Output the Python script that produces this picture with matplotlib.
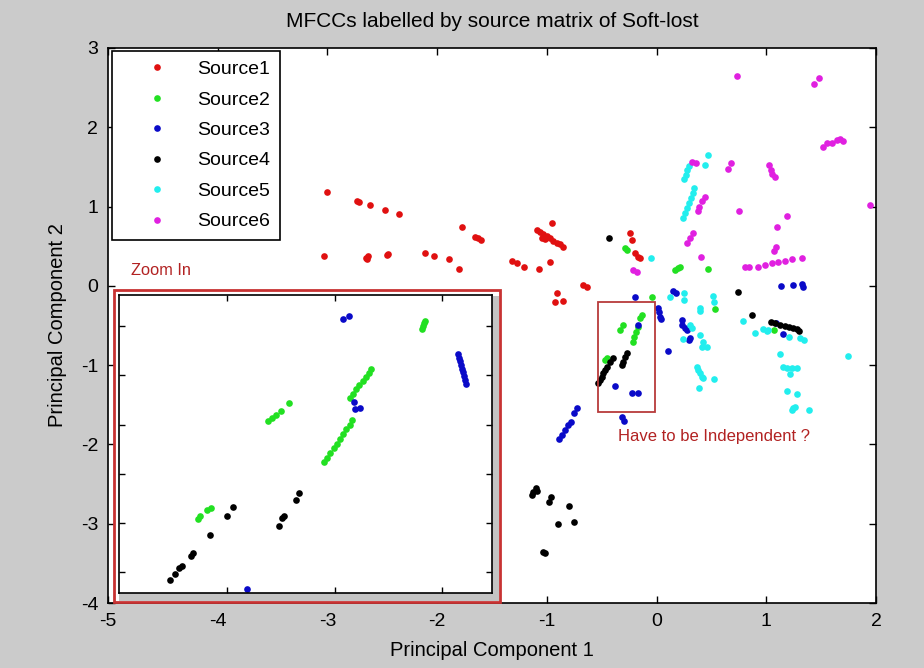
import matplotlib
matplotlib.use("Agg")
import matplotlib.pyplot as plt
from matplotlib.patches import Rectangle

plt.rcParams['font.family'] = ['Liberation Sans', 'DejaVu Sans']
plt.rcParams['axes.unicode_minus'] = False

# --- main scatter data (PC1, PC2) per source ---
src1_x = [-3.004, -2.733, -2.709, -2.609, -2.478, -2.345, -1.776, -1.655, -1.630, -1.600,
          -3.031, -2.651, -2.627, -2.642, -2.459, -2.448, -2.110, -2.026, -1.892, -1.803,
          -1.320, -1.274, -1.205, -1.071, -0.971, -0.955, -1.092, -1.062, -1.032, -1.001,
          -0.971, -0.941, -0.910, -0.880, -0.850, -1.047, -1.016, -0.910, -0.925, -0.855,
          -0.667, -0.636, -0.242, -0.226, -0.196, -0.166, -0.150]
src1_y = [1.180, 1.074, 1.062, 1.024, 0.961, 0.903, 0.747, 0.613, 0.600, 0.579,
          0.377, 0.356, 0.381, 0.335, 0.386, 0.399, 0.419, 0.373, 0.335, 0.217,
          0.318, 0.285, 0.235, 0.213, 0.298, 0.797, 0.705, 0.676, 0.651, 0.629,
          0.600, 0.570, 0.545, 0.525, 0.494, 0.600, 0.588, -0.093, -0.207, -0.187,
          0.011, -0.018, 0.663, 0.579, 0.411, 0.368, 0.348]

src2_x = [-0.287, -0.272, 0.169, 0.191, 0.214, 0.472, -0.041, -0.333, -0.303, -0.217,
          -0.202, -0.187, -0.166, -0.150, -0.135, -0.469, -0.454, 0.533, 1.067]
src2_y = [0.482, 0.453, 0.200, 0.222, 0.242, 0.213, -0.146, -0.556, -0.493, -0.704,
          -0.641, -0.578, -0.514, -0.409, -0.367, -0.934, -0.913, -0.291, -0.556]

src3_x = [1.135, 1.247, 1.324, 1.338, 0.153, 0.181, 0.016, 0.025, 0.032, 0.041,
          0.235, 0.230, 0.260, 0.275, 0.305, 0.299, 0.108, 1.089, 1.150, -0.196,
          -0.166, -0.378, -0.226, -0.166, -0.317, -0.296, -0.886, -0.864, -0.834, -0.804,
          -0.782, -0.752, -0.727]
src3_y = [-0.008, 0.011, 0.018, -0.014, -0.061, -0.086, -0.282, -0.329, -0.388, -0.421,
          -0.430, -0.499, -0.535, -0.556, -0.661, -0.682, -0.817, -0.472, -0.610, -0.144,
          -0.493, -1.262, -1.347, -1.347, -1.657, -1.700, -1.934, -1.880, -1.817, -1.754,
          -1.713, -1.607, -1.543]

src4_x = [-0.433, 0.746, 0.873, 1.041, 1.080, 1.126, 1.171, 1.211, 1.247, 1.278, 1.299,
          -0.530, -0.515, -0.500, -0.485, -0.469, -0.454, -0.424, -0.399, -0.317, -0.303,
          -0.287, -0.266, -1.138, -1.123, -1.098, -1.087, -0.977, -0.964, -0.798, -0.901,
          -0.752, -1.037, -1.016]
src4_y = [0.600, -0.073, -0.367, -0.451, -0.472, -0.493, -0.506, -0.522, -0.535, -0.547, -0.565,
          -1.228, -1.187, -1.145, -1.102, -1.060, -1.027, -0.956, -0.913, -0.997, -0.956,
          -0.900, -0.850, -2.637, -2.595, -2.552, -2.582, -2.721, -2.658, -2.776, -3.003,
          -2.981, -3.352, -3.372]

src5_x = [0.472, 0.442, 0.299, 0.281, 0.266, 0.253, 0.345, 0.330, 0.312, 0.294, 0.275,
          0.257, 0.239, -0.050, 0.123, 0.251, 0.253, 0.510, 0.524, 0.397, 0.392, 0.301,
          0.321, 0.237, 0.397, 0.421, 0.412, 0.460, 0.366, 0.381, 0.397, 0.412, 0.427,
          0.521, 0.387, 0.786, 0.901, 0.974, 1.005, 1.019, 1.211, 1.308, 1.345, 1.126,
          1.156, 1.187, 1.232, 1.278, 1.217, 1.187, 1.278, 1.232, 1.247, 1.262, 1.393, 1.748]
src5_y = [1.651, 1.525, 1.512, 1.462, 1.399, 1.344, 1.231, 1.168, 1.105, 1.042, 0.979,
          0.916, 0.852, 0.348, -0.144, -0.093, -0.178, -0.131, -0.199, -0.282, -0.323, -0.493,
          -0.535, -0.673, -0.619, -0.704, -0.767, -0.770, -1.019, -1.060, -1.102, -1.145, -1.165,
          -1.170, -1.291, -0.439, -0.590, -0.547, -0.569, -0.556, -0.641, -0.661, -0.682, -0.859,
          -1.019, -1.039, -1.039, -1.039, -1.115, -1.322, -1.363, -1.565, -1.544, -1.531, -1.565, -0.880]

src6_x = [0.737, 1.439, 1.484, 1.520, 1.551, 1.597, 1.643, 1.673, 1.703, 1.946, 0.324,
          0.360, 0.676, 0.652, 1.028, 1.039, 1.056, 1.076, 0.442, 0.412, 0.389, 0.374,
          0.752, 1.190, 1.101, 0.333, 0.303, 0.275, 1.087, 1.073, 0.403, -0.211, -0.181,
          0.807, 0.846, 0.928, 0.989, 1.050, 1.110, 1.171, 1.232, 1.324]
src6_y = [2.647, 2.542, 2.618, 1.755, 1.798, 1.806, 1.840, 1.849, 1.831, 1.020, 1.566,
          1.546, 1.554, 1.470, 1.525, 1.462, 1.415, 1.367, 1.125, 1.071, 0.999, 0.938,
          0.945, 0.884, 0.739, 0.661, 0.600, 0.541, 0.484, 0.444, 0.358, 0.200, 0.179,
          0.235, 0.235, 0.242, 0.264, 0.285, 0.298, 0.318, 0.335, 0.355]

# --- zoomed inset data ---
zin2_x = [-0.286, -0.283, -0.280, -0.277, -0.274, -0.271, -0.268, -0.266,
          -0.310, -0.307, -0.304, -0.301, -0.298, -0.295, -0.292, -0.289, -0.286, -0.284,
          -0.362, -0.358, -0.354, -0.350, -0.342, -0.219, -0.218, -0.217, -0.216,
          -0.415, -0.418, -0.425, -0.427]
zin2_y = [-0.691, -0.675, -0.657, -0.640, -0.623, -0.607, -0.590, -0.575,
          -0.953, -0.935, -0.915, -0.897, -0.878, -0.860, -0.840, -0.820, -0.800, -0.782,
          -0.786, -0.775, -0.763, -0.745, -0.714, -0.412, -0.400, -0.388, -0.378,
          -1.140, -1.146, -1.171, -1.184]
zin3_x = [-0.186, -0.185, -0.184, -0.183, -0.182, -0.181, -0.180, -0.179, -0.178,
          -0.292, -0.287, -0.282, -0.281, -0.276, -0.381]
zin3_y = [-0.514, -0.528, -0.543, -0.558, -0.572, -0.588, -0.604, -0.620, -0.636,
          -0.371, -0.360, -0.709, -0.738, -0.731, -1.470]
zin4_x = [-0.333, -0.336, -0.347, -0.349, -0.352, -0.394, -0.400, -0.416, -0.431,
          -0.433, -0.442, -0.444, -0.448, -0.453]
zin4_y = [-1.078, -1.106, -1.171, -1.180, -1.211, -1.137, -1.171, -1.251, -1.321,
          -1.334, -1.374, -1.384, -1.408, -1.432]

labels = ['Source1', 'Source2', 'Source3', 'Source4', 'Source5', 'Source6']
colors = ['#e01010', '#22e022', '#0a0ac8', '#000000', '#22eeee', '#e020e0']

# region highlighted on the main plot
box_x0, box_y0, box_w, box_h = -0.53, -1.59, 0.52, 1.39

W, H = 924, 668
fig = plt.figure(figsize=(W / 100, H / 100), dpi=100, facecolor='#cbcbcb')

def fx(px):
    return px / W

def fy(py):
    return 1 - py / H

ax = fig.add_axes([fx(108), fy(603), fx(768), 555 / H])
ax.set_facecolor('white')
series = [(src1_x, src1_y), (src2_x, src2_y), (src3_x, src3_y),
          (src4_x, src4_y), (src5_x, src5_y), (src6_x, src6_y)]
for (xs, ys), c, lab in zip(series, colors, labels):
    ax.plot(xs, ys, linestyle='none', marker='o', ms=4.8, mew=0, color=c, label=lab)

ax.set_xlim(-5, 2)
ax.set_ylim(-4, 3)
ax.set_xticks(range(-5, 3))
ax.set_yticks(range(-4, 4))
ax.tick_params(direction='in', top=True, right=True, length=5, width=1,
               labelsize=14, pad=7)
for s in ax.spines.values():
    s.set_linewidth(1.2)
ax.set_title('MFCCs labelled by source matrix of Soft-lost', fontsize=15, pad=15)
ax.set_xlabel('Principal Component 1', fontsize=14.5, labelpad=8)
ax.set_ylabel('Principal Component 2', fontsize=14.5, labelpad=10)

leg = ax.legend(loc='upper left', bbox_to_anchor=(0.005, 0.995), fontsize=14,
                frameon=True, fancybox=False, edgecolor='black', framealpha=1,
                borderpad=0.5, handlelength=3.64, handletextpad=0.25,
                labelspacing=0.66, borderaxespad=0, markerscale=1.0)
leg.get_frame().set_linewidth(1.2)

ax.add_patch(Rectangle((box_x0, box_y0), box_w, box_h, fill=False,
                       edgecolor='#b83a3a', linewidth=1.3, zorder=5))
ax.text(-4.79, 0.20, 'Zoom In', color='#b22222', fontsize=11.8, va='center')
ax.text(-0.351, -1.905, 'Have to be Independent ?', color='#b22222',
        fontsize=12, va='center')

# inset frame: white panel, grey shadow, red border
fig.add_artist(Rectangle((fx(114), fy(602)), fx(386), 312 / H, transform=fig.transFigure,
                         facecolor='white', edgecolor='none', zorder=2))
fig.add_artist(Rectangle((fx(119), fy(601)), fx(380), 305 / H, transform=fig.transFigure,
                         facecolor='#c4c4c4', edgecolor='none', zorder=2.1))
fig.add_artist(Rectangle((fx(114), fy(602)), fx(386), 312 / H, transform=fig.transFigure,
                         fill=False, edgecolor='#c83232', linewidth=2, zorder=4))

axi = fig.add_axes([fx(119), fy(593), fx(373), 298 / H], zorder=3)
axi.set_facecolor('white')
axi.plot(zin2_x, zin2_y, linestyle='none', marker='o', ms=4.8, mew=0, color=colors[1])
axi.plot(zin3_x, zin3_y, linestyle='none', marker='o', ms=4.8, mew=0, color=colors[2])
axi.plot(zin4_x, zin4_y, linestyle='none', marker='o', ms=4.8, mew=0, color=colors[3])
axi.set_xlim(-0.5, -0.154)
axi.set_ylim(-1.485, -0.273)
axi.set_xticks([-0.4, -0.3, -0.2])
axi.set_yticks([-1.4, -1.2, -1.0, -0.8, -0.6, -0.4])
axi.tick_params(direction='in', top=True, right=True, length=4, width=1,
                labelbottom=False, labelleft=False)
for s in axi.spines.values():
    s.set_linewidth(1.2)

fig.savefig('out.png', dpi=100, facecolor=fig.get_facecolor())
